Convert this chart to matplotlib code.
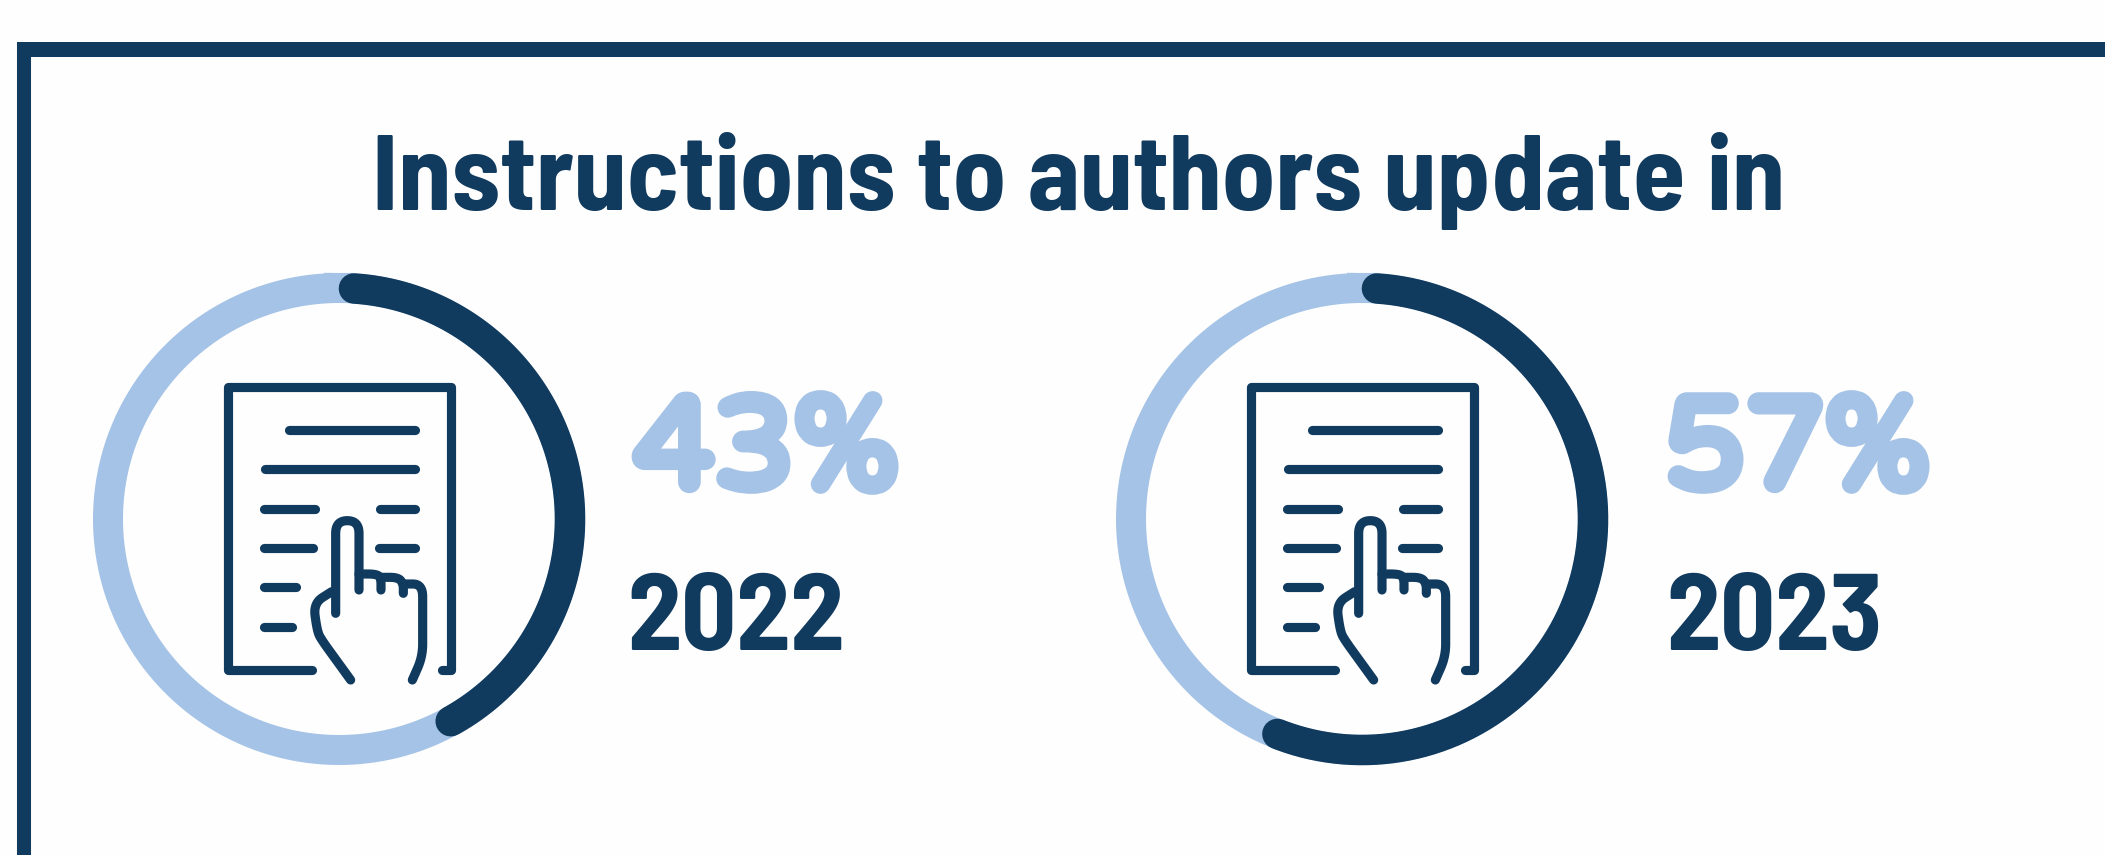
import matplotlib

matplotlib.use('Agg')
import matplotlib.pyplot as plt
import matplotlib.patheffects as pe
import numpy as np

title = "Instructions to authors update in"
years = ["2022", "2023"]
shares = [43, 57]

dark = '#103A5E'
light = '#A5C3E6'

# document + hand icon, traced in pixels (shared by both panels)
doc_lines = [
    [(727, 899), (752, 899), (752, 52), (83, 52), (83, 899), (335, 899)],
    [(268, 180), (645, 180)],
    [(195, 298), (645, 298)],
    [(193, 417), (345, 417)],
    [(541, 417), (645, 417)],
    [(193, 535), (340, 535)],
    [(538, 535), (645, 535)],
    [(192, 652), (288, 652)],
    [(193, 770), (275, 770)],
]
hand_lines = [
    [(407, 730), (407, 452), (477, 452), (477, 660)],
    [(395, 665), (340, 700), (352, 785), (365, 810), (452, 930)],
    [(637, 930), (668, 860), (668, 642), (610, 642)],
    [(477, 612), (530, 612), (543, 625), (543, 660)],
    [(543, 622), (595, 622), (610, 642), (610, 670)],
]


def round_corners(pts, r):
    # swap each inner corner for a small quadratic curve
    pts = np.array(pts, dtype=float)
    out = [pts[0]]
    for a, b, c in zip(pts[:-2], pts[1:-1], pts[2:]):
        d1 = min(r, np.linalg.norm(a - b) / 2)
        d2 = min(r, np.linalg.norm(c - b) / 2)
        p1 = b + (a - b) / np.linalg.norm(a - b) * d1
        p2 = b + (c - b) / np.linalg.norm(c - b) * d2
        for s in np.linspace(0, 1, 12):
            out.append((1 - s) ** 2 * p1 + 2 * s * (1 - s) * b + s ** 2 * p2)
    out.append(pts[-1])
    return np.array(out)


fig = plt.figure(figsize=(21.05, 8.55), dpi=100, facecolor='#FEFEFE')
ax = fig.add_axes([0, 0, 1, 1])
ax.set_xlim(0, 2105)
ax.set_ylim(855, 0)
ax.axis('off')

# frame
ax.plot([24, 24], [855, 42], color=dark, lw=10.1, solid_capstyle='butt')
ax.plot([17, 2105], [49.5, 49.5], color=dark, lw=10.8, solid_capstyle='butt')

head_font = ['Barlow Semi Condensed', 'Roboto', 'DejaVu Sans']
ax.text(372, 210, title, color=dark, fontsize=77, fontweight='bold', family=head_font, ha='left', va='baseline')

centers = [339, 1362]
radius = 231
cap = np.degrees(15 / radius)

for i in range(2):
    cx = centers[i]
    cy = 519
    t = np.radians(np.linspace(0, 360, 400))
    ax.plot(cx + radius * np.sin(t), cy - radius * np.cos(t), color=light, lw=21.6)
    # arc length includes the round caps
    t = np.radians(np.linspace(cap, shares[i] * 3.6 - cap, 200))
    ax.plot(cx + radius * np.sin(t), cy - radius * np.cos(t), color=dark, lw=22, solid_capstyle='round')

    dx = 200 + (cx - centers[0])
    for line in doc_lines:
        pts = np.array(line, dtype=float)
        ax.plot(dx + pts[:, 0] / 3, 370 + pts[:, 1] / 3, color=dark, lw=6.6,
                solid_capstyle='round', solid_joinstyle='round')
    for line in hand_lines:
        pts = round_corners(line, 38)
        ax.plot(dx + pts[:, 0] / 3, 370 + pts[:, 1] / 3, color=dark, lw=6.6,
                solid_capstyle='round', solid_joinstyle='round')

pct_x = [634, 1665]
year_x = [627, 1666]
for i in range(2):
    t = ax.text(pct_x[i], 487, str(shares[i]) + '%', color=light, fontsize=92,
                family=['Varela Round', 'Roboto', 'DejaVu Sans'], ha='left', va='baseline')
    t.set_path_effects([pe.withStroke(linewidth=8, foreground=light, joinstyle='round')])
    ax.text(year_x[i], 650, years[i], color=dark, fontsize=78, fontweight='bold',
            family=['Barlow Semi Condensed', 'Roboto', 'DejaVu Sans'], ha='left', va='baseline')

fig.savefig('out.png', dpi=100, facecolor=fig.get_facecolor())
